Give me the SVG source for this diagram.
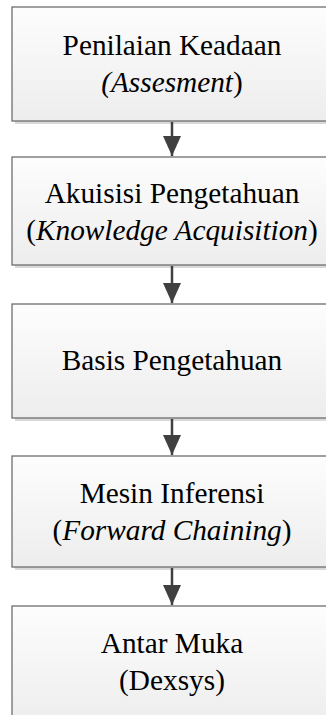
<svg xmlns="http://www.w3.org/2000/svg" width="326" height="715" viewBox="0 0 326 715">
<defs>
<linearGradient id="g" x1="0" y1="0" x2="0" y2="1">
<stop offset="0" stop-color="#fdfdfd"/>
<stop offset="1" stop-color="#ededed"/>
</linearGradient>
<marker id="ah" markerUnits="userSpaceOnUse" markerWidth="22" markerHeight="18" refX="20" refY="9" orient="auto">
<path d="M0,0 L20,9 L0,18 Z" fill="#404040"/>
</marker>
</defs>
<style>
.box{fill:url(#g);stroke:#6e6e6e;stroke-width:1.3}
.sh{fill:#d9d9d9}
text{font-family:'Liberation Serif','DejaVu Serif',serif;font-size:29.3px;fill:#000;text-anchor:middle}
.i{font-style:italic}
.c{stroke:#404040;stroke-width:2.5;fill:none;marker-end:url(#ah)}
</style>
<rect width="326" height="715" fill="#ffffff"/>
<g id="n1">
<rect class="sh" x="15" y="10" width="320" height="114"/>
<rect class="box" x="12" y="7" width="320" height="114"/>
<text x="172" y="55" style="font-family:'Liberation Serif',serif">Penilaian Keadaan</text>
<text x="172" y="92" style="font-family:'Liberation Serif',serif"><tspan class="i">(Assesment</tspan>)</text>
</g>
<g id="n2">
<rect class="sh" x="15" y="160" width="320" height="108"/>
<rect class="box" x="12" y="157" width="320" height="108"/>
<text x="172" y="203" style="font-family:'Liberation Serif',serif">Akuisisi Pengetahuan</text>
<text x="172" y="240" style="font-family:'Liberation Serif',serif">(<tspan class="i">Knowledge Acquisition</tspan>)</text>
</g>
<g id="n3">
<rect class="sh" x="15" y="307" width="320" height="114"/>
<rect class="box" x="12" y="304" width="320" height="114"/>
<text x="172" y="370" style="font-family:'Liberation Serif',serif">Basis Pengetahuan</text>
</g>
<g id="n4">
<rect class="sh" x="15" y="459" width="320" height="111"/>
<rect class="box" x="12" y="456" width="320" height="111"/>
<text x="172" y="503" style="font-family:'Liberation Serif',serif">Mesin Inferensi</text>
<text x="172" y="540" style="font-family:'Liberation Serif',serif">(<tspan class="i">Forward Chaining</tspan>)</text>
</g>
<g id="n5">
<rect class="sh" x="15" y="609" width="320" height="120"/>
<rect class="box" x="12" y="606" width="320" height="120"/>
<text x="172" y="653" style="font-family:'Liberation Serif',serif">Antar Muka</text>
<text x="172" y="690" style="font-family:'Liberation Serif',serif">(Dexsys)</text>
</g>
<g id="connectors">
<line class="c" x1="172" y1="122" x2="172" y2="156"/>
<line class="c" x1="172" y1="266" x2="172" y2="303"/>
<line class="c" x1="172" y1="419" x2="172" y2="455"/>
<line class="c" x1="172" y1="568" x2="172" y2="605"/>
</g>
</svg>
